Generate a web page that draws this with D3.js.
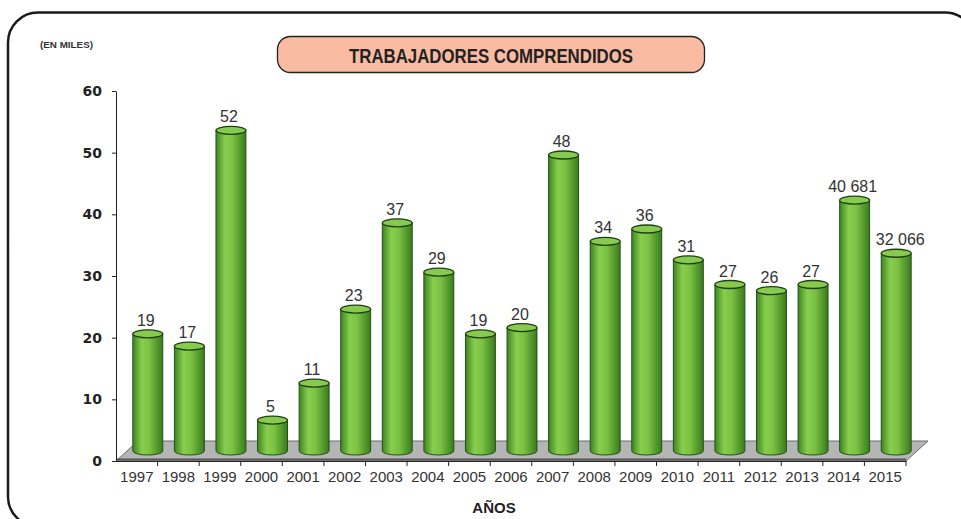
<!DOCTYPE html>
<html>
<head>
<meta charset="utf-8">
<script src="https://cdn.jsdelivr.net/npm/d3@7"></script>
<style>
  body { margin: 0; background: #fff; }
  svg { display: block; }
</style>
</head>
<body>
<svg width="961" height="519"></svg>
<script>
// data (values in thousands)
let years = ["1997", "1998", "1999", "2000", "2001", "2002", "2003", "2004", "2005", "2006",
             "2007", "2008", "2009", "2010", "2011", "2012", "2013", "2014", "2015"];
let workers = [19, 17, 52, 5, 11, 23, 37, 29, 19, 20, 48, 34, 36, 31, 27, 26, 27, 40.681, 32.066];
let valueLabels = ["19", "17", "52", "5", "11", "23", "37", "29", "19", "20",
                   "48", "34", "36", "31", "27", "26", "27", "40 681", "32 066"];
let yTicks = [0, 10, 20, 30, 40, 50, 60];

var drawChart = function() {
  let svg = d3.select("svg");

  let margin = { top: 91, right: 55, bottom: 58, left: 116 };
  let plotWidth = 961 - margin.left - margin.right;
  let plotHeight = 519 - margin.top - margin.bottom;

  // depth of the 3d floor, bars sit half way in
  let depth = { dx: 22, dy: -20 };

  // outer frame
  svg.append("rect")
    .attr("x", 8).attr("y", 12.5)
    .attr("width", 967).attr("height", 514)
    .attr("rx", 30).attr("ry", 30)
    .attr("fill", "none")
    .attr("stroke", "#1a1a1a")
    .attr("stroke-width", 2.5);

  // title box
  svg.append("rect")
    .attr("x", 277.5).attr("y", 36.5)
    .attr("width", 427).attr("height", 36)
    .attr("rx", 13).attr("ry", 13)
    .attr("fill", "#f9bca3")
    .attr("stroke", "#222")
    .attr("stroke-width", 1.3);

  svg.append("text")
    .attr("x", 491).attr("y", 63)
    .attr("text-anchor", "middle")
    .attr("textLength", 284)
    .attr("lengthAdjust", "spacingAndGlyphs")
    .style("font-family", "'Liberation Sans Narrow', 'Liberation Sans', Arial, sans-serif")
    .style("font-weight", "bold")
    .style("font-size", "20px")
    .style("fill", "#222")
    .text("TRABAJADORES COMPRENDIDOS");

  svg.append("text")
    .attr("x", 40).attr("y", 48)
    .attr("textLength", 53)
    .attr("lengthAdjust", "spacingAndGlyphs")
    .style("font-family", "'Liberation Sans', Arial, sans-serif")
    .style("font-weight", "bold")
    .style("font-size", "9.5px")
    .style("fill", "#333")
    .text("(EN MILES)");

  let x = d3.scaleBand()
    .domain(years)
    .range([0, plotWidth])
    .paddingInner(0);

  let y = d3.scaleLinear()
    .domain([0, 60])
    .range([plotHeight, 0]);

  let defs = svg.append("defs");
  let grad = defs.append("linearGradient")
    .attr("id", "barGrad")
    .attr("x1", "0%").attr("x2", "100%")
    .attr("y1", "0%").attr("y2", "0%");
  grad.append("stop").attr("offset", "0%").attr("stop-color", "#3c8520");
  grad.append("stop").attr("offset", "30%").attr("stop-color", "#88cd4e");
  grad.append("stop").attr("offset", "55%").attr("stop-color", "#7bc343");
  grad.append("stop").attr("offset", "100%").attr("stop-color", "#3a7a1e");

  let plot = svg.append("g")
    .attr("id", "plot")
    .attr("transform", "translate(" + margin.left + "," + margin.top + ")");

  // floor
  let floorPts = [
    [0, plotHeight],
    [plotWidth, plotHeight],
    [plotWidth + depth.dx, plotHeight + depth.dy],
    [depth.dx, plotHeight + depth.dy]
  ];
  plot.append("polygon")
    .attr("points", floorPts.map(p => p.join(",")).join(" "))
    .attr("fill", "#b5b5b5")
    .attr("stroke", "#6a6a6a")
    .attr("stroke-width", 1);

  plot.append("line")
    .attr("x1", 0).attr("x2", plotWidth)
    .attr("y1", plotHeight - 1.5).attr("y2", plotHeight - 1.5)
    .attr("stroke", "#555")
    .attr("stroke-width", 2);

  // axes
  let xAxis = d3.axisBottom(x).tickSize(0).tickPadding(10);
  let xGroup = plot.append("g")
    .attr("id", "x-axis")
    .attr("transform", "translate(0," + plotHeight + ")")
    .call(xAxis);
  xGroup.select(".domain").attr("stroke", "#222");
  xGroup.selectAll("text")
    .style("font-family", "'Liberation Sans', Arial, sans-serif")
    .style("font-size", "15px")
    .style("fill", "#333");

  // ticks between categories
  xGroup.selectAll("line.sep")
    .data(years)
    .enter().append("line")
    .attr("class", "sep")
    .attr("x1", d => x(d) + x.bandwidth())
    .attr("x2", d => x(d) + x.bandwidth())
    .attr("y1", 0).attr("y2", 5)
    .attr("stroke", "#222");

  let yAxis = d3.axisLeft(y).tickValues(yTicks).tickSize(4).tickPadding(10).tickSizeOuter(0);
  let yGroup = plot.append("g")
    .attr("id", "y-axis")
    .call(yAxis);
  yGroup.select(".domain").attr("stroke", "#222");
  yGroup.selectAll("line").attr("stroke", "#222");
  yGroup.selectAll("text")
    .style("font-family", "'DejaVu Sans', Verdana, sans-serif")
    .style("font-weight", "bold")
    .style("font-size", "14px")
    .style("fill", "#222");

  // cylinders
  let barW = x.bandwidth() * 0.72;
  let rx = barW / 2;
  let ry = 4;
  let ox = depth.dx / 2;
  let oy = depth.dy / 2;

  let bars = plot.selectAll("g.bar")
    .data(years)
    .enter().append("g")
    .attr("class", "bar");

  bars.append("path")
    .attr("d", function(d, i) {
      let cx = x(d) + x.bandwidth() / 2 + ox;
      let top = y(workers[i]) + oy;
      let bottom = y(0) + oy;
      return "M" + (cx - rx) + "," + top +
        " L" + (cx - rx) + "," + bottom +
        " A" + rx + "," + ry + " 0 0 0 " + (cx + rx) + "," + bottom +
        " L" + (cx + rx) + "," + top + " Z";
    })
    .attr("fill", "url(#barGrad)")
    .attr("stroke", "#24501a")
    .attr("stroke-width", 1);

  bars.append("ellipse")
    .attr("cx", (d) => x(d) + x.bandwidth() / 2 + ox)
    .attr("cy", (d, i) => y(workers[i]) + oy)
    .attr("rx", rx)
    .attr("ry", ry)
    .attr("fill", "#86cb4f")
    .attr("stroke", "#1e3f12")
    .attr("stroke-width", 1.3);

  bars.append("text")
    .attr("x", (d, i) => x(d) + x.bandwidth() / 2 + ox + (i == years.length - 1 ? 4 : -2))
    .attr("y", (d, i) => y(workers[i]) + oy - 8)
    .attr("text-anchor", "middle")
    .style("font-family", "'Liberation Sans', Arial, sans-serif")
    .style("font-size", "16px")
    .style("fill", "#333")
    .text((d, i) => valueLabels[i]);

  svg.append("text")
    .attr("x", 494).attr("y", 513)
    .attr("text-anchor", "middle")
    .style("font-family", "'Liberation Sans Narrow', 'Liberation Sans', Arial, sans-serif")
    .style("font-weight", "bold")
    .style("font-size", "15px")
    .style("fill", "#222")
    .text("AÑOS");
}

drawChart();
</script>
</body>
</html>
